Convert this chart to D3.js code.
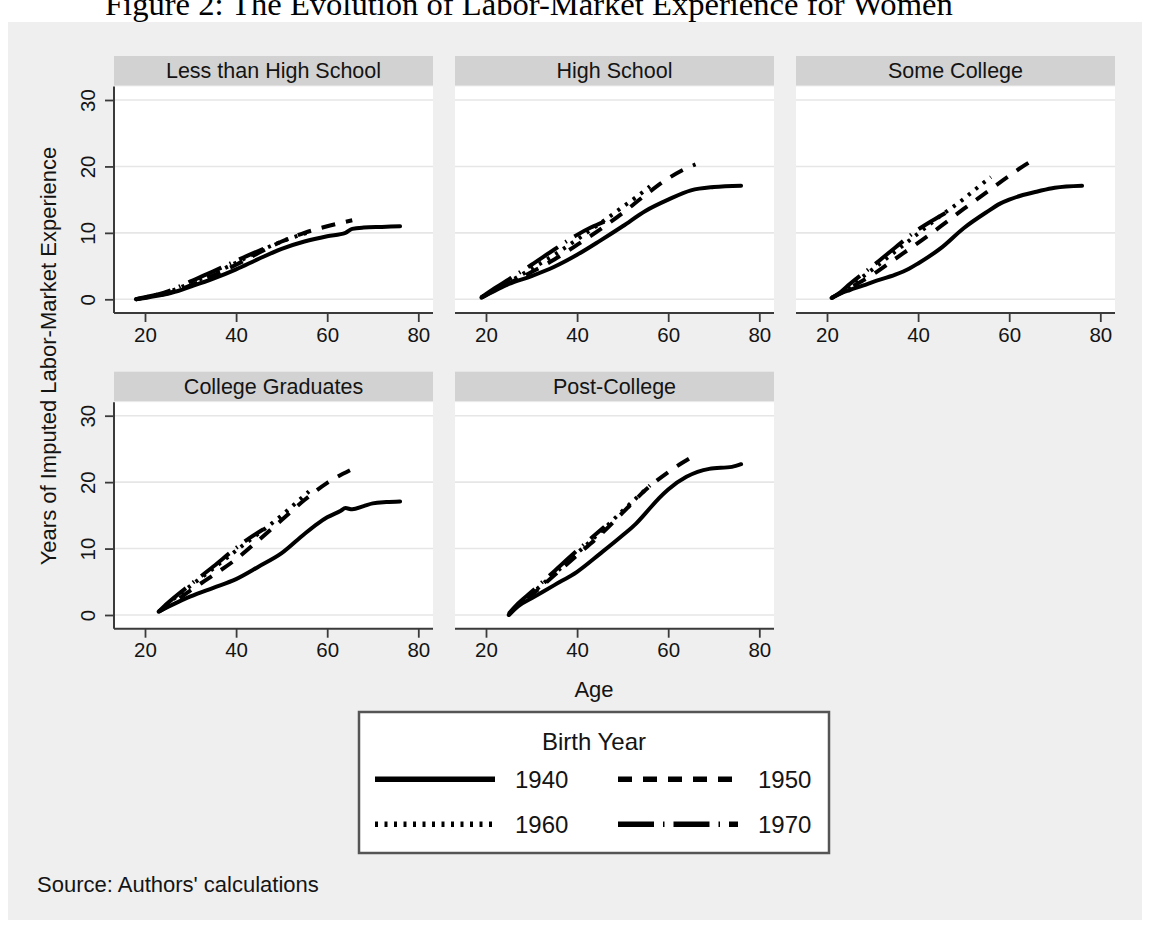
<!DOCTYPE html>
<html><head><meta charset="utf-8">
<script src="https://cdn.jsdelivr.net/npm/d3@7/dist/d3.min.js"></script>
<style>
body{margin:0;background:#fff}
svg{display:block}
text{font-family:"Liberation Sans",Arial,Helvetica,sans-serif;fill:#141414}
</style>
</head><body>
<svg id="chart" width="1149" height="926"></svg>
<script>
// ---------- data ----------
const categories = ["Less than High School","High School","Some College","College Graduates","Post-College"];
const cohorts = ["1940","1950","1960","1970"];
const xTicks = [20,40,60,80];
const yTicks = [0,10,20,30];

// [age, years of imputed experience]
const lessHS_1940 = [[18,0],[20,0.2],[23,0.55],[26,1.0],[30,1.9],[35,3.1],[40,4.5],[45,6.1],[50,7.6],[55,8.7],[60,9.5],[64,10.0],[65.5,10.6],[68,10.8],[72,10.9],[76,11.0]];
const lessHS_1950 = [[18,0],[20,0.25],[25,0.9],[30,2.1],[35,3.6],[40,5.2],[45,7.0],[50,8.7],[55,10.0],[60,11.0],[65.5,11.9]];
const lessHS_1960 = [[18,0],[20,0.3],[25,1.1],[30,2.4],[35,3.9],[40,5.5],[45,7.2],[50,8.7],[56,10.1]];
const lessHS_1970 = [[18,0],[20,0.3],[25,1.2],[30,2.7],[35,4.2],[40,5.8],[46,7.6]];

const hs_1940 = [[19,0.25],[22,1.3],[25,2.3],[30,3.5],[35,4.9],[40,6.7],[45,8.8],[50,11.0],[55,13.3],[60,15.0],[65,16.4],[70,16.9],[76,17.1]];
const hs_1950 = [[19,0.25],[22,1.4],[25,2.4],[30,4.1],[35,6.0],[40,8.2],[45,10.5],[50,13.0],[55,15.7],[60,18.2],[63,19.4],[66,20.3]];
const hs_1960 = [[19,0.3],[22,1.5],[25,2.6],[30,4.6],[35,6.7],[40,9.0],[45,11.4],[50,13.9],[53,15.4],[56,17.0]];
const hs_1970 = [[19,0.3],[22,1.7],[25,3.0],[30,5.2],[35,7.5],[40,9.7],[43,10.8],[46,11.7]];

const someCol_1940 = [[21,0.2],[23,0.9],[25,1.4],[28,2.1],[30,2.6],[35,3.7],[38,4.6],[40,5.4],[45,7.7],[50,10.7],[55,13.1],[58,14.4],[60,15.0],[63,15.7],[66,16.2],[70,16.8],[76,17.1]];
const someCol_1950 = [[21,0.2],[23,0.9],[25,1.7],[30,3.7],[35,6.1],[40,8.5],[45,11.0],[50,13.6],[55,16.1],[60,18.6],[63,20.0],[66,21.3]];
const someCol_1960 = [[21,0.2],[23,1.0],[25,2.0],[30,4.5],[35,7.2],[40,9.9],[45,12.6],[50,15.1],[53,16.8],[56,18.4]];
const someCol_1970 = [[21,0.2],[23,1.1],[25,2.3],[30,5.0],[35,7.8],[40,10.5],[43,11.8],[46,13.0]];

const colGrad_1940 = [[23,0.5],[25,1.2],[28,2.2],[30,2.8],[35,4.1],[40,5.4],[45,7.3],[50,9.3],[55,12.2],[58,13.8],[60,14.7],[63,15.7],[64,16.1],[65.5,15.9],[68,16.4],[70,16.8],[73,17.0],[76,17.1]];
const colGrad_1950 = [[23,0.5],[25,1.3],[30,3.7],[35,6.0],[40,8.4],[45,11.3],[50,14.3],[55,17.3],[60,19.9],[65,21.8]];
const colGrad_1960 = [[23,0.5],[25,1.7],[30,4.4],[35,7.0],[40,9.7],[45,12.3],[50,15.0],[53,16.8],[56,18.6]];
const colGrad_1970 = [[23,0.5],[25,1.8],[30,4.6],[35,7.3],[40,10.1],[43,11.6],[46,12.9]];

const postCol_1940 = [[25,0],[27,1.3],[30,2.5],[35,4.5],[40,6.5],[45,9.2],[50,12.0],[53,13.8],[55,15.3],[58,17.6],[60,18.9],[64,20.8],[69,22.0],[74,22.3],[76,22.7]];
const postCol_1950 = [[25,0],[27,1.4],[30,3.0],[35,6.0],[40,9.0],[45,12.0],[50,15.4],[55,18.8],[60,21.5],[65,23.7]];
const postCol_1960 = [[25,0.1],[27,1.5],[30,3.2],[35,6.2],[40,9.3],[45,12.4],[50,15.7],[53,17.6],[56,19.5]];
const postCol_1970 = [[25,0.2],[27,1.7],[30,3.5],[35,6.6],[40,9.7],[43,11.5],[46,13.3]];

const seriesByCategory = [
  [lessHS_1940, lessHS_1950, lessHS_1960, lessHS_1970],
  [hs_1940, hs_1950, hs_1960, hs_1970],
  [someCol_1940, someCol_1950, someCol_1960, someCol_1970],
  [colGrad_1940, colGrad_1950, colGrad_1960, colGrad_1970],
  [postCol_1940, postCol_1950, postCol_1960, postCol_1970]
];

// ---------- styles / layout ----------
const dashes = {"1940": null, "1950": "14,11", "1960": "3,6.5", "1970": "36,9,1.5,9"};
const colLeft = [114, 455, 796];
const rowTop = [56, 371.7];
const panelW = 319, headerH = 29.5, panelH = 257;

const svg = d3.select("#chart");

// outer background
svg.append("rect").attr("x",8).attr("y",22).attr("width",1134).attr("height",898).attr("fill","#efefef");

// title (sits at the very top edge, as in the reference)
svg.append("text").attr("x",105).attr("y",15)
  .style("font-family","'Liberation Serif','DejaVu Serif',serif")
  .style("font-size","32.6px").style("fill","#000")
  .text("Figure 2:  The Evolution of Labor-Market Experience for Women");

categories.forEach((cat, i) => {
  const col = i % 3, row = Math.floor(i / 3);
  const L = colLeft[col], T = rowTop[row];
  const g = svg.append("g");
  const x = d3.scaleLinear().domain([20,80]).range([L+31, L+304.3]);
  const y = d3.scaleLinear().domain([0,30]).range([T+243.3, T+44]);
  const plotTop = T + headerH + 1, axisY = T + panelH;

  // header strip
  g.append("rect").attr("x",L).attr("y",T).attr("width",panelW).attr("height",headerH).attr("fill","#d2d2d2");
  g.append("text").attr("x",L+panelW/2).attr("y",T+headerH/2).attr("dy","0.36em")
    .attr("text-anchor","middle").style("font-size","21.5px").text(cat);

  // plot region
  g.append("rect").attr("x",L).attr("y",plotTop).attr("width",panelW).attr("height",axisY-plotTop).attr("fill","#fff");

  // grid
  g.selectAll(".grid").data(yTicks).join("line")
    .attr("x1",L).attr("x2",L+panelW).attr("y1",d=>y(d)).attr("y2",d=>y(d))
    .attr("stroke","#e6e6e6").attr("stroke-width",1.6);

  // series
  const line = d3.line().x(d=>x(d[0])).y(d=>y(d[1])).curve(d3.curveMonotoneX);
  seriesByCategory[i].forEach((s, k) => {
    g.append("path").attr("d", line(s)).attr("fill","none")
      .attr("stroke","#000").attr("stroke-width",4)
      .attr("stroke-linejoin","round")
      .attr("stroke-linecap", dashes[cohorts[k]] ? "butt" : "round")
      .attr("stroke-dasharray", dashes[cohorts[k]]);
  });

  // x axis
  const xa = g.append("g").attr("transform",`translate(0,${axisY})`)
    .call(d3.axisBottom(x).tickValues(xTicks).tickSize(9).tickSizeOuter(0).tickPadding(5));
  xa.select(".domain").remove();
  xa.selectAll(".tick line").attr("stroke","#3a3a3a").attr("stroke-width",1.8);
  xa.selectAll(".tick text").style("font-size","20.5px").style("font-family","'Liberation Sans',Arial,sans-serif").attr("fill","#141414");
  g.append("line").attr("x1",L).attr("x2",L+panelW).attr("y1",axisY).attr("y2",axisY)
    .attr("stroke","#3a3a3a").attr("stroke-width",2);

  // y axis (first column only)
  if (col === 0) {
    const ya = g.append("g").attr("transform",`translate(${L},0)`)
      .call(d3.axisLeft(y).tickValues(yTicks).tickSize(9).tickSizeOuter(0));
    ya.select(".domain").remove();
    ya.selectAll(".tick line").attr("stroke","#3a3a3a").attr("stroke-width",1.8);
    ya.selectAll(".tick text").attr("x",0).attr("dy",0).attr("text-anchor","middle")
      .attr("transform","translate(-19,0) rotate(-90)")
      .style("font-size","20.5px").style("font-family","'Liberation Sans',Arial,sans-serif").attr("fill","#141414");
    g.append("line").attr("x1",L).attr("x2",L).attr("y1",plotTop).attr("y2",axisY)
      .attr("stroke","#3a3a3a").attr("stroke-width",2);
  }
});

// axis titles
svg.append("text").attr("transform","translate(56,356) rotate(-90)").attr("text-anchor","middle")
  .style("font-size","22px").text("Years of Imputed Labor-Market Experience");
svg.append("text").attr("x",594).attr("y",697).attr("text-anchor","middle")
  .style("font-size","22px").text("Age");

// legend
const lg = svg.append("g");
lg.append("rect").attr("x",359).attr("y",712).attr("width",470).attr("height",141)
  .attr("fill","#fff").attr("stroke","#555").attr("stroke-width",2.5);
lg.append("text").attr("x",594).attr("y",750).attr("text-anchor","middle").style("font-size","24px").text("Birth Year");
const legPos = [[375,779.3],[618,779.3],[375,824.3],[618,824.3]];
cohorts.forEach((c, k) => {
  const [lx, ly] = legPos[k];
  lg.append("line").attr("x1",lx).attr("x2",lx+120).attr("y1",ly).attr("y2",ly)
    .attr("stroke","#000").attr("stroke-width",5.5)
    .attr("stroke-dasharray", dashes[c]).attr("stroke-linecap","butt");
  lg.append("text").attr("x",lx+140).attr("y",ly).attr("dy","0.36em").style("font-size","24px").text(c);
});

// source
svg.append("text").attr("x",37).attr("y",892).style("font-size","22px").text("Source: Authors' calculations");
</script>
</body></html>
